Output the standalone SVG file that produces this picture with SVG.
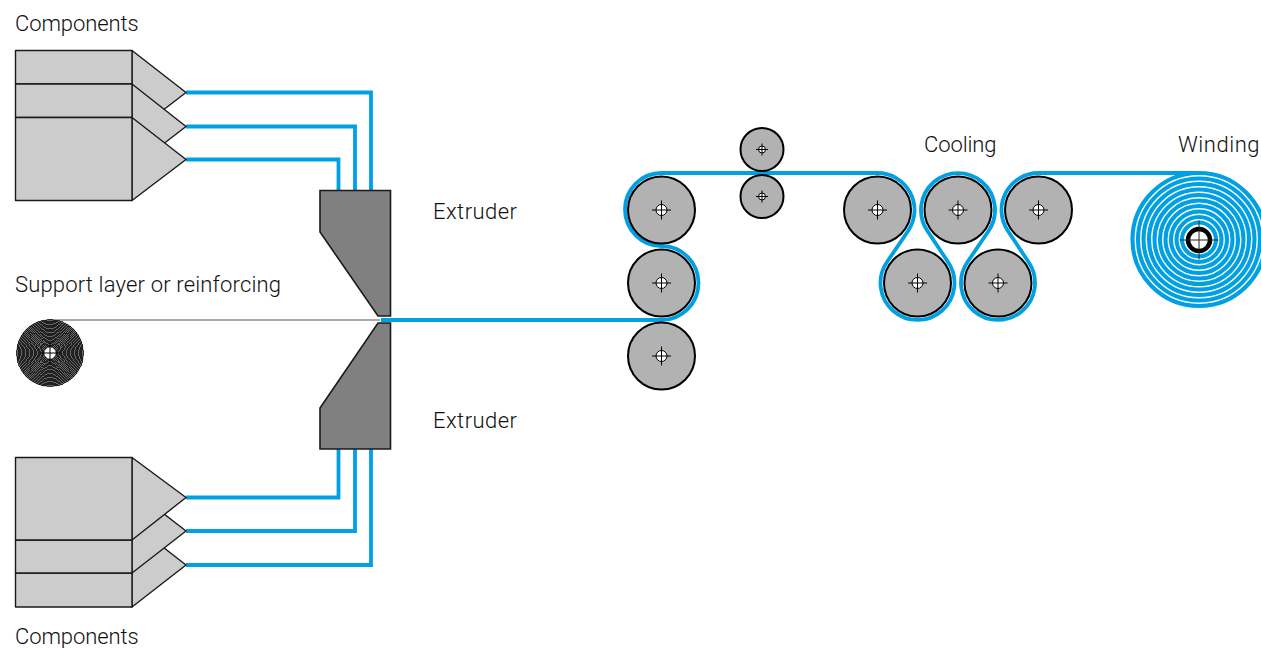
<svg xmlns="http://www.w3.org/2000/svg" width="1261" height="648" viewBox="0 0 1261 648">
<style>
text{font-family:"Roboto","Liberation Sans",sans-serif;font-weight:300;font-size:22px;fill:#111}
.h{fill:#ccc;stroke:#1a1a1a;stroke-width:1.4;stroke-linejoin:round}
.e{fill:#808080;stroke:#1a1a1a;stroke-width:1.6}
.b{fill:none;stroke:#00a0e3;stroke-width:3.8}
.w{fill:none;stroke:#00a0e3;stroke-width:4.1}
.r{fill:#b2b2b2;stroke:#000;stroke-width:2}
.o{fill:#fff;stroke:#000;stroke-width:1}
.x{stroke:#000;stroke-width:1;fill:none}
.s{fill:none;stroke:#000;stroke-width:.67;shape-rendering:crispEdges}
</style>
<defs>
<g id="bigRoller"><circle class="r" r="33.5"/><circle class="o" r="5.5"/><path class="x" d="M-9.5 0H9.5M0-9.5V9.5"/></g>
<g id="smallRoller"><circle class="r" r="21.5"/><circle class="o" r="3.5"/><path class="x" d="M-6 0H6M0-6V6"/></g>
</defs>
<rect width="1261" height="648" fill="#fff"/>
<g id="connectors">
<path class="b" d="M186 92.500H371V190M186 126.500H355V190M186 159.500H338.500V190"/>
<path class="b" d="M186 497.500H338.500V449M186 531H355V449M186 565H371V449"/>
<path d="M50 320H380" fill="none" stroke="#555" stroke-width="1.2"/>
<path class="b" stroke-linejoin="round" d="M381 320H661.500A37 37 0 0 0 661.500 246A36.500 36.500 0 0 1 661.500 173H877.500A37 37 0 0 1 908.200 230.700L886.800 262.300A37 37 0 1 0 948.200 262.300L927.300 230.700A37 37 0 1 1 988.700 230.700L967.300 262.300A37 37 0 1 0 1028.700 262.300L1007.800 230.700A37 37 0 0 1 1038.500 173H1199"/>
<g class="w">
<circle cx="1199" cy="239.500" r="66.500"/><circle cx="1199" cy="239.500" r="61"/><circle cx="1199" cy="239.500" r="55.500"/><circle cx="1199" cy="239.500" r="50"/><circle cx="1199" cy="239.500" r="44.500"/><circle cx="1199" cy="239.500" r="39"/><circle cx="1199" cy="239.500" r="33.500"/><circle cx="1199" cy="239.500" r="28"/><circle cx="1199" cy="239.500" r="22.500"/><circle cx="1199" cy="239.500" r="17"/>
</g>
</g>
<g id="components-top">
<path class="h" d="M132 50.500L186 92.500L132 134V50.500Z"/>
<path class="h" d="M132 84L186 126.500L132 168V84Z"/>
<path class="h" d="M132 117.500L186 159.500L132 200.500Z"/>
<rect class="h" x="15.500" y="50.500" width="116.500" height="33.500"/>
<rect class="h" x="15.500" y="84" width="116.500" height="33.500"/>
<rect class="h" x="15.500" y="117.500" width="116.500" height="83"/>
</g>
<g id="components-bottom">
<path class="h" d="M132 523L186 565L132 607Z"/>
<path class="h" d="M132 489L186 531L132 573Z"/>
<path class="h" d="M132 457.500L186 497.500L132 540Z"/>
<rect class="h" x="15.500" y="573" width="116.500" height="34"/>
<rect class="h" x="15.500" y="540" width="116.500" height="33"/>
<rect class="h" x="15.500" y="457.500" width="116.500" height="82.500"/>
</g>
<g id="extruder-top"><path class="e" d="M320 190.500H390.500V316H378L320 232Z"/></g>
<g id="extruder-bottom"><path class="e" d="M320 449H390.500V323H378L320 408Z"/></g>
<g id="support-roll">
<circle r="33.800" cx="50" cy="353" fill="#666"/>
<g class="s">
<circle cx="50" cy="353" r="33.330"/><circle cx="50" cy="353" r="32"/><circle cx="50" cy="353" r="30.670"/><circle cx="50" cy="353" r="29.330"/><circle cx="50" cy="353" r="28"/><circle cx="50" cy="353" r="26.670"/><circle cx="50" cy="353" r="25.330"/><circle cx="50" cy="353" r="24"/><circle cx="50" cy="353" r="22.670"/><circle cx="50" cy="353" r="21.330"/><circle cx="50" cy="353" r="20"/><circle cx="50" cy="353" r="18.670"/><circle cx="50" cy="353" r="17.330"/><circle cx="50" cy="353" r="16"/><circle cx="50" cy="353" r="14.670"/><circle cx="50" cy="353" r="13.330"/><circle cx="50" cy="353" r="12"/><circle cx="50" cy="353" r="10.670"/><circle cx="50" cy="353" r="9.330"/><circle cx="50" cy="353" r="8"/><circle cx="50" cy="353" r="6.670"/>
</g>
<circle cx="50" cy="353" r="5.500" fill="#fff"/>
<path d="M50 343V363M40 353H60" stroke="#000" stroke-width="1" fill="none"/>
</g>
<g id="roller-1"><use href="#bigRoller" x="661.500" y="210"/></g>
<g id="roller-2"><use href="#bigRoller" x="661.500" y="283"/></g>
<g id="roller-3"><use href="#bigRoller" x="661.500" y="356"/></g>
<g id="nip-top"><use href="#smallRoller" x="762" y="149.500"/></g>
<g id="nip-bottom"><use href="#smallRoller" x="762" y="196.500"/></g>
<g id="cooling-1"><use href="#bigRoller" x="877.500" y="210"/></g>
<g id="cooling-2"><use href="#bigRoller" x="958" y="210"/></g>
<g id="cooling-3"><use href="#bigRoller" x="1038.500" y="210"/></g>
<g id="cooling-4"><use href="#bigRoller" x="917.500" y="283"/></g>
<g id="cooling-5"><use href="#bigRoller" x="998" y="283"/></g>
<g id="winding-core">
<circle cx="1199" cy="240" r="11" fill="#fff" stroke="#000" stroke-width="4.500"/>
<path d="M1179.500 240H1218.500M1199 220.500V259.500" stroke="#222" stroke-width="1" fill="none"/>
</g>
<g id="labels">
<text x="15" y="31" letter-spacing="-.1">Components</text>
<text x="15" y="644" letter-spacing="-.1">Components</text>
<text x="15" y="292" letter-spacing=".17">Support layer or reinforcing</text>
<text x="433" y="219" letter-spacing=".45">Extruder</text>
<text x="433" y="428" letter-spacing=".45">Extruder</text>
<text x="924" y="152" letter-spacing="-.1">Cooling</text>
<text x="1178" y="152" letter-spacing=".55">Winding</text>
</g>
</svg>
